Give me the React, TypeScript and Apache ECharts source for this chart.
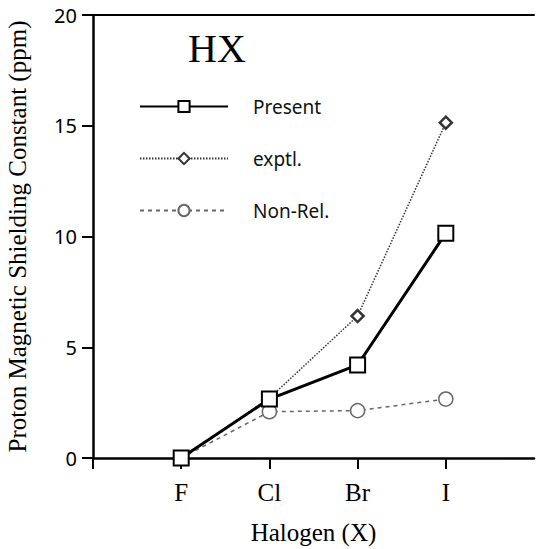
import React, { useEffect, useRef } from "react";
import * as echarts from "echarts";

const halogens = ["F", "Cl", "Br", "I"];
const present = [0, 2.66, 4.2, 10.15];
const exptl = [0, 2.7, 6.41, 15.14];
const nonRel = [0, 2.09, 2.14, 2.66];
const yTicks = { min: 0, max: 20, interval: 5 };

const serif = "'Liberation Serif', 'Times New Roman', serif";
const sans = "'Noto Sans', sans-serif";

export default function App() {
  const ref = useRef<HTMLDivElement>(null);
  useEffect(() => {
    if (!ref.current) return;
    const chart = echarts.init(ref.current, null, { renderer: "svg" });
    const cats = ["", ...halogens, ""];
    const last = cats.length - 1;
    const toData = (vals: number[]) => halogens.map((h, i) => [h, vals[i]]);
    chart.setOption({
      animation: false,
      backgroundColor: "#fff",
      title: {
        text: "HX",
        left: 183,
        top: 23,
        textStyle: { fontFamily: serif, fontSize: 40, fontWeight: "normal", color: "#000" },
      },
      legend: {
        orient: "vertical",
        left: 134,
        top: 92,
        itemWidth: 88,
        itemHeight: 14,
        itemGap: 33,
        data: ["Present", "exptl.", "Non-Rel."],
        textStyle: { fontFamily: sans, fontSize: 19, color: "#111", padding: [0, 0, 0, 20] },
      },
      grid: { left: 93, right: 2, top: 15, bottom: 91, outerBoundsMode: "none", containLabel: false },
      xAxis: [
        {
          type: "category",
          data: cats,
          boundaryGap: false,
          name: "Halogen (X)",
          nameLocation: "middle",
          nameGap: 62,
          nameTextStyle: { fontFamily: serif, fontSize: 25, color: "#000" },
          axisLine: { lineStyle: { color: "#000", width: 2.5 } },
          axisTick: {
            length: 11,
            interval: (idx: number) => idx < last,
            lineStyle: { color: "#000", width: 2 },
          },
          axisLabel: { fontFamily: serif, fontSize: 25, color: "#000", margin: 22 },
          splitLine: { show: false },
        },
        {
          type: "category",
          data: cats,
          boundaryGap: false,
          position: "top",
          axisLine: { lineStyle: { color: "#000", width: 2 } },
          axisTick: { show: false },
          axisLabel: { show: false },
          splitLine: { show: false },
        },
      ],
      yAxis: {
        type: "value",
        min: yTicks.min,
        max: yTicks.max,
        interval: yTicks.interval,
        name: "Proton Magnetic Shielding Constant (ppm)",
        nameLocation: "middle",
        nameGap: 63,
        nameTextStyle: { fontFamily: serif, fontSize: 25, color: "#000" },
        axisLine: { show: true, lineStyle: { color: "#000", width: 2.5 } },
        axisTick: { show: true, length: 11, lineStyle: { color: "#000", width: 2 } },
        axisLabel: { fontFamily: sans, fontSize: 20, color: "#000", margin: 16 },
        splitLine: { show: false },
      },
      series: [
        {
          name: "Non-Rel.",
          type: "line",
          data: toData(nonRel),
          symbol: "circle",
          symbolSize: 14,
          lineStyle: { color: "#666", width: 1.5, type: [4, 4] },
          itemStyle: { color: "#fff", borderColor: "#666", borderWidth: 1.5 },
          z: 2,
        },
        {
          name: "exptl.",
          type: "line",
          data: toData(exptl),
          symbol: "diamond",
          symbolSize: 12,
          lineStyle: { color: "#333", width: 1.5, type: [1.5, 1.5] },
          itemStyle: { color: "#fff", borderColor: "#333", borderWidth: 2.5 },
          z: 3,
        },
        {
          name: "Present",
          type: "line",
          data: toData(present),
          symbol: "rect",
          symbolSize: 15,
          lineStyle: { color: "#000", width: 3 },
          itemStyle: { color: "#fff", borderColor: "#000", borderWidth: 2 },
          z: 4,
        },
      ],
    });
    return () => chart.dispose();
  }, []);
  return <div ref={ref} style={{ width: 536, height: 549, position: "absolute", left: 0, top: 0 }} />;
}
